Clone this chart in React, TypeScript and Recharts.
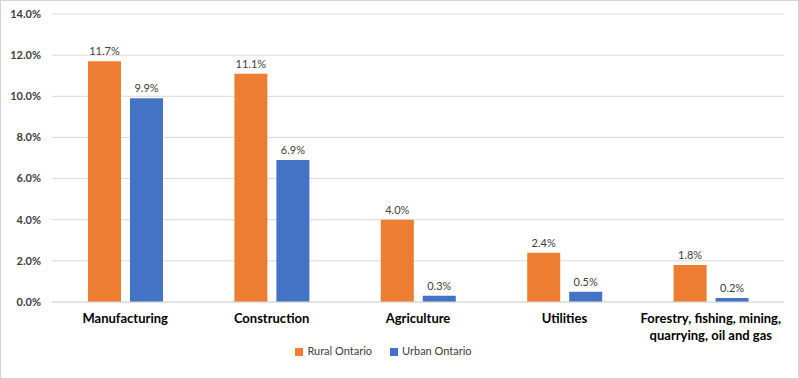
import { BarChart, Bar, XAxis, YAxis, CartesianGrid, Legend, LabelList } from "recharts";

const categories = [
  "Manufacturing",
  "Construction",
  "Agriculture",
  "Utilities",
  "Forestry, fishing, mining, quarrying, oil and gas",
];
const rural = [11.7, 11.1, 4.0, 2.4, 1.8];
const urban = [9.9, 6.9, 0.3, 0.5, 0.2];
const yTicks = [0, 2, 4, 6, 8, 10, 12, 14];

const data = categories.map((name, i) => ({ name, rural: rural[i], urban: urban[i] }));

const FONT = "Lato, 'Liberation Sans', sans-serif";
const TEXT = "#404040";

function wrap(label: string, max: number) {
  const lines: string[] = [];
  let cur = "";
  for (const w of label.split(" ")) {
    if (cur && (cur + " " + w).length > max) {
      lines.push(cur);
      cur = w;
    } else {
      cur = cur ? cur + " " + w : w;
    }
  }
  if (cur) lines.push(cur);
  return lines;
}

function CategoryTick(props: any) {
  const { x, y, payload } = props;
  const lines = wrap(payload.value, 27);
  return (
    <text x={x} y={y} textAnchor="middle" fill="#000" fontFamily={FONT} fontSize={13} fontWeight="bold">
      {lines.map((l, i) => (
        <tspan key={i} x={x} dy={i === 0 ? 13 : 17}>
          {l}
        </tspan>
      ))}
    </text>
  );
}

const pct = (v: number) => v.toFixed(1) + "%";

export default function App() {
  return (
    <div
      style={{
        position: "absolute",
        left: 0,
        top: 0,
        width: 799,
        height: 379,
        boxSizing: "border-box",
        border: "1px solid #d4d4d4",
        background: "#fff",
      }}
    >
      <BarChart
        width={797}
        height={377}
        data={data}
        margin={{ top: 13, right: 14, bottom: 14, left: 0 }}
        barSize={33}
        barGap={9}
      >
        <CartesianGrid vertical={false} stroke="#d9d9d9" />
        <XAxis
          dataKey="name"
          tick={<CategoryTick />}
          tickLine={false}
          axisLine={{ stroke: "#d9d9d9" }}
          interval={0}
          height={42}
        />
        <YAxis
          domain={[0, 14]}
          ticks={yTicks}
          tickFormatter={pct}
          width={51}
          tickLine={false}
          axisLine={false}
          tickMargin={5}
          tick={{ fill: TEXT, fontFamily: FONT, fontSize: 11, fontWeight: "bold" }}
        />
        <Legend
          verticalAlign="bottom"
          height={20}
          iconType="square"
          iconSize={8}
          wrapperStyle={{ fontFamily: FONT, fontSize: 11 }}
          formatter={(v: string) => <span style={{ color: TEXT, marginRight: 8 }}>{v}</span>}
        />
        <Bar dataKey="rural" name="Rural Ontario" fill="#ED7D31" isAnimationActive={false}>
          <LabelList dataKey="rural" position="top" offset={6} formatter={pct as any} fill={TEXT} fontFamily={FONT} fontSize={11} />
        </Bar>
        <Bar dataKey="urban" name="Urban Ontario" fill="#4472C4" isAnimationActive={false}>
          <LabelList dataKey="urban" position="top" offset={6} formatter={pct as any} fill={TEXT} fontFamily={FONT} fontSize={11} />
        </Bar>
      </BarChart>
    </div>
  );
}
